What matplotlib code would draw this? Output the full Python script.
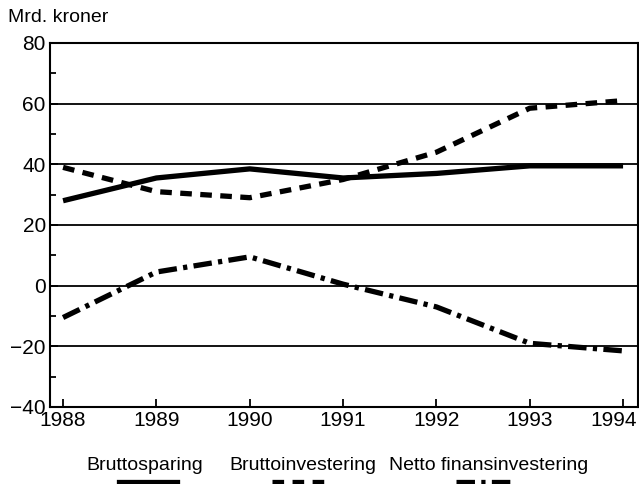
import matplotlib
matplotlib.use("Agg")
import matplotlib.pyplot as plt
import matplotlib.transforms as mtransforms
from matplotlib.lines import Line2D
from matplotlib.ticker import MultipleLocator

plt.rcParams['font.family'] = ['Liberation Sans', 'DejaVu Sans']

years = [1988, 1989, 1990, 1991, 1992, 1993, 1994]
bruttosparing = [28, 35.5, 38.5, 35.5, 37, 39.5, 39.5]
bruttoinvestering = [39, 31, 29, 35, 44, 58.5, 61]
netto_finans = [-10.5, 4.5, 9.5, 0.5, -7, -19, -21.5]
labels = ["Bruttosparing", "Bruttoinvestering", "Netto finansinvestering"]

fig = plt.figure(figsize=(6.39, 4.84), dpi=100)
ax = fig.add_axes([50 / 639, 1 - 407 / 484, 588 / 639, 364 / 484])

lw = 3.8
ax.plot(years, bruttosparing, color='black', lw=lw, solid_capstyle='butt')
ax.plot(years, bruttoinvestering, color='black', lw=lw, dashes=(2.2, 1.6))
ax.plot(years, netto_finans, color='black', lw=lw, dashes=(3.5, 1.2, 0.8, 1.2))

for v in [60, 40, 20, 0, -20]:
    ax.axhline(v, color='black', lw=1.3, zorder=0)

ax.set_xlim(1987.86, 1994.16)
ax.set_ylim(-40, 80)
ax.set_xticks(years)
ax.set_yticks([80, 60, 40, 20, 0, -20, -40])
ax.yaxis.set_minor_locator(MultipleLocator(10))
ax.tick_params(axis='both', direction='in', length=6, width=1.3, labelsize=15)
ax.tick_params(axis='y', which='minor', direction='in', length=4, width=1.3)
ax.tick_params(axis='x', pad=3)
ax.tick_params(axis='y', pad=3)
for s in ax.spines.values():
    s.set_linewidth(1.5)

# keep the last year label inside the figure
last = ax.get_xticklabels()[-1]
last.set_horizontalalignment('right')
last.set_transform(last.get_transform() + mtransforms.ScaledTranslation(0.14, 0, fig.dpi_scale_trans))

fig.text(8 / 639, 1 - 18 / 484, "Mrd. kroner", fontsize=14, va='center', ha='left')

# legend: labels with line samples underneath
label_x = [145, 303, 489]
sample_x = [(119, 177), (272, 331), (456, 514)]
styles = [dict(), dict(dashes=(2.2, 1.6)), dict(dashes=(3.5, 1.2, 0.8, 1.2))]
for lab, lx, (x0, x1), st in zip(labels, label_x, sample_x, styles):
    fig.text(lx / 639, 1 - 466 / 484, lab, fontsize=14, ha='center', va='center')
    fig.add_artist(Line2D([x0 / 639, x1 / 639], [1 - 482 / 484, 1 - 482 / 484],
                          color='black', lw=lw, **st))

fig.savefig("out.png", dpi=100)
